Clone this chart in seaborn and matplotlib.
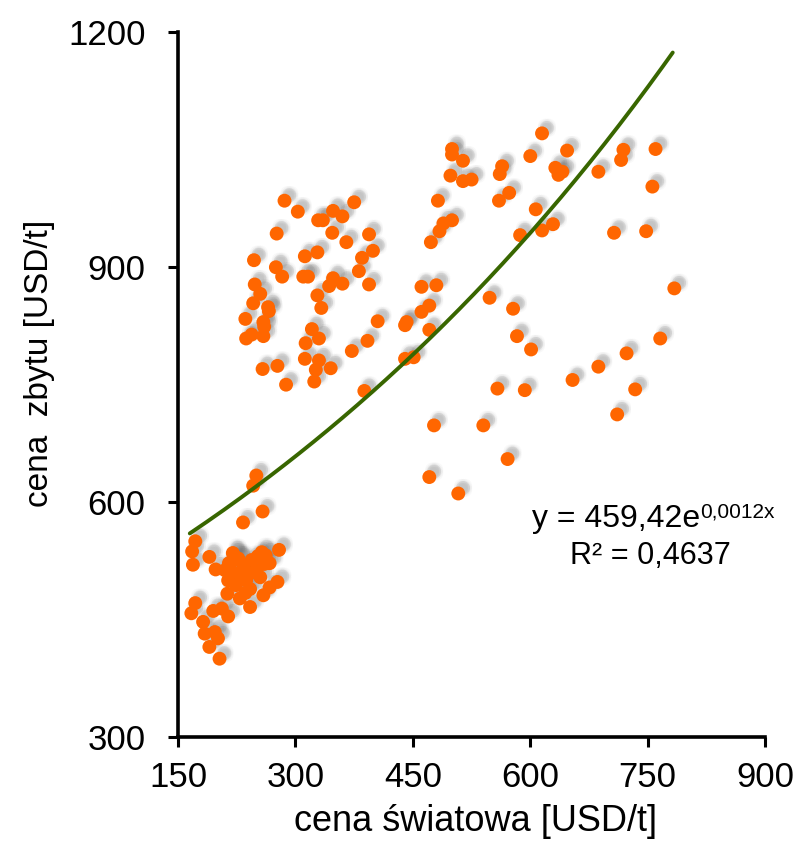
import numpy as np
import pandas as pd
import matplotlib
matplotlib.use("Agg")
import matplotlib.pyplot as plt
import matplotlib.patheffects as pe
import seaborn as sns

# ---- data ----
world_price = [
    286, 303, 375, 348, 360, 329, 335, 276, 347, 365, 394, 399, 385, 247, 312, 328,
    275, 283, 310, 316, 348, 343, 360, 381, 394, 248, 255, 246, 265, 266, 328, 333,
    236, 259, 260, 237, 244, 259, 321, 330, 313, 405, 392, 372, 312, 330, 326, 345,
    258, 277, 288, 324, 388,
    615, 500, 500, 514, 498, 514, 525, 482, 564, 561, 600, 647, 632, 636, 641, 687,
    719, 716, 760, 756, 573, 560, 607, 629, 615, 587, 489, 500, 484, 473, 707, 748,
    461, 480, 471, 461, 442, 440, 471, 548, 578, 583, 601, 784, 766, 723, 687, 440,
    451, 654, 734, 558, 593, 711, 477, 540, 571, 471, 508,
    250, 246, 258, 233, 172, 168, 169, 190, 198, 221, 227, 279, 277, 267, 259, 242,
    236, 229, 213, 242, 172, 167, 195, 206, 214, 182, 184, 197, 201, 190, 203,
    220, 227, 215, 234, 244, 252, 257, 262, 242, 229, 219, 210, 237, 250, 260, 267,
    224, 214, 255,
]
sale_price = [
    985, 971, 983, 972, 965, 960, 960, 943, 944, 932, 942, 921, 912, 909, 914, 919,
    900, 888, 888, 888, 886, 876, 879, 895, 878, 878, 866, 854, 849, 844, 864, 848,
    834, 830, 824, 809, 814, 812, 821, 809, 803, 831, 806, 793, 783, 781, 769, 771,
    770, 774, 750, 754, 742,
    1071, 1051, 1044, 1036, 1017, 1010, 1012, 985, 1029, 1019, 1042, 1049, 1027, 1018, 1022, 1022,
    1050, 1037, 1051, 1003, 995, 985, 974, 955, 947, 941, 956, 960, 946, 932, 944, 946,
    875, 877, 851, 843, 830, 826, 820, 861, 847, 812, 795, 873, 809, 790, 773, 783,
    785, 756, 744, 745, 743, 712, 698, 698, 655, 632, 611,
    634, 621, 588, 574, 550, 537, 520, 530, 514, 532, 528, 539, 498, 491, 481, 489,
    484, 477, 483, 466, 471, 458, 461, 464, 454, 447, 432, 434, 426, 415, 400,
    535, 526, 522, 516, 526, 531, 536, 532, 509, 507, 511, 513, 500, 513, 521, 522,
    494, 500, 504,
]

fit_a = 459.42
fit_b = 0.0012
fit_x_range = [165, 782]

x_ticks = [150, 300, 450, 600, 750, 900]
y_ticks = [300, 600, 900, 1200]

df = pd.DataFrame({"cena światowa": world_price, "cena zbytu": sale_price})
xs = np.linspace(fit_x_range[0], fit_x_range[1], 200)
fit_df = pd.DataFrame({"x": xs, "y": fit_a * np.exp(fit_b * xs)})

sns.set_theme(style="white")
plt.rcParams["font.family"] = ["Liberation Sans", "DejaVu Sans"]

fig = plt.figure(figsize=(8.02, 8.52), dpi=100)
ax = fig.add_axes([0.222, 0.135, 0.732, 0.827])

sns.scatterplot(data=df, x="cena światowa", y="cena zbytu", ax=ax,
                color="#FF6600", s=100, edgecolor="none", linewidth=0, zorder=3)
# soft (blurred-looking) drop shadow towards the upper right
shadow = []
for dx in (2.0, 3.5, 5.0):
    for dy in (2.5, 4.0, 5.5):
        shadow.append(pe.SimplePatchShadow(offset=(dx, dy), shadow_rgbFace="#707070", alpha=0.04))
shadow.append(pe.SimplePatchShadow(offset=(3.5, 4.0), shadow_rgbFace="#707070", alpha=0.12))
for coll in ax.collections:
    coll.set_path_effects(shadow + [pe.Normal()])

sns.lineplot(data=fit_df, x="x", y="y", ax=ax, color="#386600", linewidth=2.8, zorder=4)

ax.set_xlim(150, 900)
ax.set_ylim(300, 1200)
ax.set_xticks(x_ticks)
ax.set_yticks(y_ticks)
ax.tick_params(axis="both", which="major", labelsize=25, direction="out",
               length=7.5, width=2.2, color="black", labelcolor="black")
ax.tick_params(axis="x", bottom=True, pad=9.5)
ax.tick_params(axis="y", left=True, pad=16)
for side in ["top", "right"]:
    ax.spines[side].set_visible(False)
for side in ["left", "bottom"]:
    ax.spines[side].set_color("black")
    ax.spines[side].set_linewidth(2.6)

ax.set_xlabel("cena światowa [USD/t]", fontsize=26, color="black")
ax.set_ylabel("cena  zbytu [USD/t]", fontsize=24, color="black")
ax.xaxis.set_label_coords(0.507, -0.095)
ax.yaxis.set_label_coords(-0.2095, 0.53)
ax.grid(False)

ax.text(817, 568.5, "y = 459,42e", fontsize=23, ha="right", va="baseline", color="black")
ax.text(817, 580.5, "0,0012x", fontsize=15, ha="left", va="baseline", color="black")
ax.text(753, 521, "R² = 0,4637", fontsize=22, ha="center", va="baseline", color="black")

fig.savefig("out.png", dpi=100)
